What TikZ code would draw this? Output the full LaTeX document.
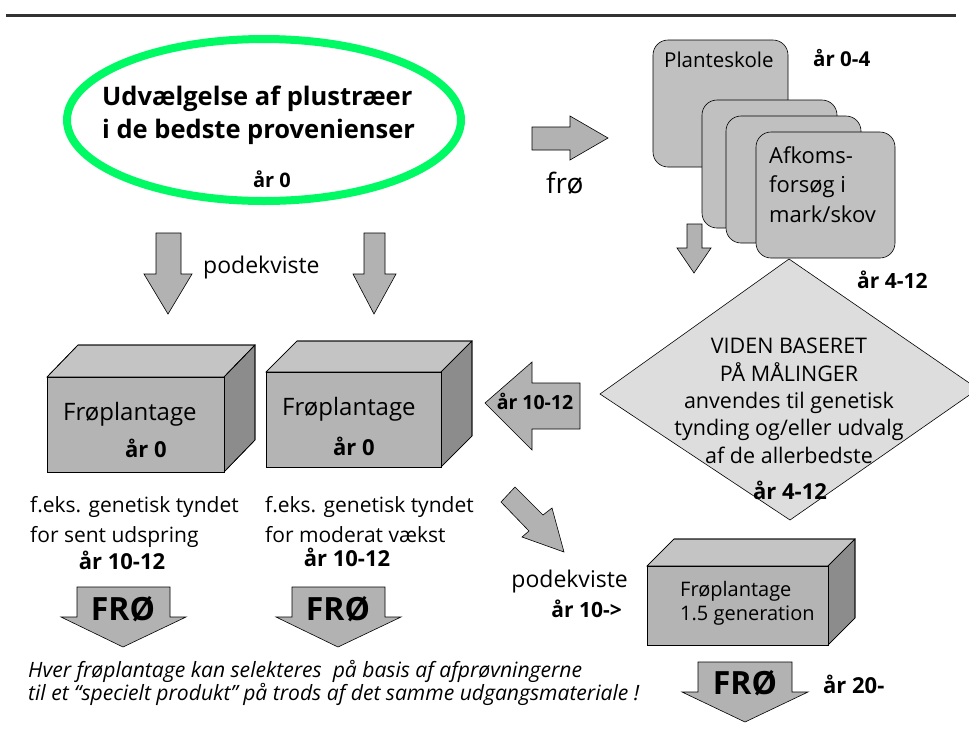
\documentclass[tikz,border=0pt]{standalone}
\usepackage{fontspec}
\setmainfont{Open Sans}
\definecolor{arrowgray}{RGB}{178,178,178}
\definecolor{cardgray}{RGB}{192,192,192}
\definecolor{frontgray}{RGB}{180,180,180}
\definecolor{topgray}{RGB}{196,196,196}
\definecolor{sidegray}{RGB}{140,140,140}
\definecolor{diagray}{RGB}{221,221,221}
\definecolor{ringgreen}{RGB}{0,250,100}
\definecolor{rulegray}{RGB}{50,50,50}
\tikzset{
  blockarrow/.style={fill=arrowgray, draw=black, line width=0.6pt, line join=miter},
  cardbox/.style={fill=cardgray, draw=black, line width=0.6pt, rounded corners=15pt},
  facefront/.style={fill=frontgray, draw=black, line width=0.6pt, line join=miter},
  facetop/.style={fill=topgray, draw=black, line width=0.6pt, line join=miter},
  faceside/.style={fill=sidegray, draw=black, line width=0.6pt, line join=miter},
  txt/.style={inner sep=0pt, anchor=base west},
  txtc/.style={inner sep=0pt, anchor=base},
  txte/.style={inner sep=0pt, anchor=base east},
}
\newcommand{\mycube}[6]{%
  \fill[facetop] (#1,#2) -- (#1+#5,#2+#6) -- (#3+#5,#2+#6) -- (#3,#2) -- cycle;
  \fill[faceside] (#3,#2) -- (#3+#5,#2+#6) -- (#3+#5,#4+#6) -- (#3,#4) -- cycle;
  \filldraw[facefront] (#1,#2) rectangle (#3,#4);
  \draw[line width=0.6pt] (#1,#2) -- (#1+#5,#2+#6) -- (#3+#5,#2+#6) -- (#3+#5,#4+#6) -- (#3,#4);
  \draw[line width=0.6pt] (#3,#2) -- (#3+#5,#2+#6);
}
\begin{document}
\begin{tikzpicture}[x=1pt,y=-1pt]
\useasboundingbox (0,0) rectangle (969,740);
\fill[white] (0,0) rectangle (969,740);
\clip (0,0) rectangle (969,740);

% top rule
\coordinate (ruleL) at (6,15);
\coordinate (ruleR) at (956,15);
\draw[rulegray, line width=3pt] (ruleL) -- (ruleR);

% ellipse
\draw[ringgreen, line width=8pt] (264,120) ellipse [x radius=197, y radius=81];
\node[txt, font=\bfseries\fontsize{25.5}{33}\selectfont, align=left] (sel) at (102,138) {Udvælgelse af plustræer\\i de bedste provenienser};
\node[txtc, font=\bfseries\fontsize{20}{22}\selectfont] (selyr) at (272,187) {år 0};

% frø arrow
\filldraw[blockarrow] (532,127) -- (570,127) -- (570,116) -- (608,138) -- (570,160) -- (570,150) -- (532,150) -- cycle;
\node[txt, font=\fontsize{28}{30}\selectfont] (froe) at (546,193) {frø};

% cards
\filldraw[cardbox] (653,40) rectangle (788,167);
\node[txt, font=\fontsize{20.5}{24}\selectfont] (plant) at (664,67) {Planteskole};
\node[txt, font=\bfseries\fontsize{20.5}{22}\selectfont] (plantyr) at (813,66) {år 0-4};
\filldraw[cardbox] (702,100) rectangle (837,228);
\filldraw[cardbox] (726,116) rectangle (861,243);
\filldraw[cardbox] (756,132) rectangle (895,258);
\node[txt, font=\fontsize{22}{29.5}\selectfont, align=left] (afk) at (769,222) {Afkoms-\\forsøg i\\mark/skov};

% small down arrow
\filldraw[blockarrow] (687,224) -- (702,224) -- (702,248) -- (711,248) -- (694,273) -- (677,248) -- (687,248) -- cycle;
\node[txt, font=\bfseries\fontsize{21}{22}\selectfont] (dyr) at (857,288) {år 4-12};

% diamond
\filldraw[fill=diagray, draw=black, line width=0.6pt] (789,259) -- (978,389) -- (790,520) -- (600,394) -- cycle;
\node[txtc, font=\fontsize{21.5}{27.3}\selectfont, align=center] (viden) at (789,463) {VIDEN BASERET\\PÅ MÅLINGER\\anvendes til genetisk\\tynding og/eller udvalg\\af de allerbedste};
\node[txtc, font=\bfseries\fontsize{22}{24}\selectfont] (vidyr) at (790,499) {år 4-12};

% podekviste arrows
\filldraw[blockarrow] (156,233) -- (181,233) -- (181,274) -- (192,274) -- (168,314) -- (144,274) -- (156,274) -- cycle;
\filldraw[blockarrow] (364,233) -- (385,233) -- (385,274) -- (396,274) -- (374,314) -- (353,274) -- (364,274) -- cycle;
\node[txt, font=\fontsize{23}{26}\selectfont] (pode) at (203,273) {podekviste};

% cubes
\mycube{47}{377}{224}{472}{31}{-32}
\node[txt, font=\fontsize{24}{26}\selectfont] (fp1) at (63,420) {Frøplantage};
\node[txt, font=\bfseries\fontsize{22}{24}\selectfont] (fp1yr) at (125,457) {år 0};
\mycube{266}{372}{441}{467}{31}{-31}
\node[txt, font=\fontsize{24}{26}\selectfont] (fp2) at (282,415) {Frøplantage};
\node[txt, font=\bfseries\fontsize{22}{24}\selectfont] (fp2yr) at (333,455) {år 0};
\mycube{647}{566}{828}{645}{27}{-27}
\node[txt, font=\fontsize{20}{24}\selectfont, align=left] (fp3) at (680,620) {Frøplantage\\1.5 generation};

% left arrow
\filldraw[blockarrow] (580,383) -- (532,383) -- (532,362) -- (485,403) -- (532,450) -- (532,429) -- (580,429) -- cycle;
\node[txtc, font=\bfseries\fontsize{19.5}{22}\selectfont] (lyr) at (535,409) {år 10-12};

% diagonal arrow
\filldraw[blockarrow] (501,502) -- (515,487) -- (543,515) -- (552,508) -- (564,552) -- (522,537) -- (529,531) -- cycle;
\node[txte, font=\fontsize{23}{26}\selectfont] (pode2) at (628,587) {podekviste};
\node[txte, font=\bfseries\fontsize{21}{24}\selectfont] (pode2yr) at (622,617) {år 10->};

% texts below cubes
\node[txt, font=\fontsize{21}{30}\selectfont, align=left] (t1) at (30,542) {f.eks. genetisk tyndet\\for sent udspring};
\node[txtc, font=\bfseries\fontsize{22}{24}\selectfont] (t1yr) at (122,569) {år 10-12};
\node[txt, font=\fontsize{21}{30}\selectfont, align=left] (t2) at (265,542) {f.eks. genetisk tyndet\\for moderat vækst};
\node[txtc, font=\bfseries\fontsize{22}{24}\selectfont] (t2yr) at (347,566) {år 10-12};

% FRØ arrows
\filldraw[blockarrow] (77,587) -- (170,587) -- (170,617) -- (186,617) -- (123,647) -- (61,617) -- (77,617) -- cycle;
\node[txtc, font=\bfseries\fontsize{32}{36}\selectfont] (fr1) at (123,620) {FRØ};
\filldraw[blockarrow] (292,587) -- (385,587) -- (385,617) -- (401,617) -- (338,647) -- (276,617) -- (292,617) -- cycle;
\node[txtc, font=\bfseries\fontsize{32}{36}\selectfont] (fr2) at (338,620) {FRØ};
\filldraw[blockarrow] (698,662) -- (792,662) -- (792,692) -- (808,692) -- (745,722) -- (682,692) -- (698,692) -- cycle;
\node[txtc, font=\bfseries\fontsize{32}{36}\selectfont] (fr3) at (745,694) {FRØ};
\node[txt, font=\bfseries\fontsize{22}{24}\selectfont] (fr3yr) at (823,693) {år 20-};

% italic note
\node[txt, font=\itshape\fontsize{21.1}{23}\selectfont, align=left] (note) at (28,700) {Hver frøplantage kan selekteres \ på basis af afprøvningerne\\til et “specielt produkt” på trods af det samme udgangsmateriale !};
\end{tikzpicture}
\end{document}
